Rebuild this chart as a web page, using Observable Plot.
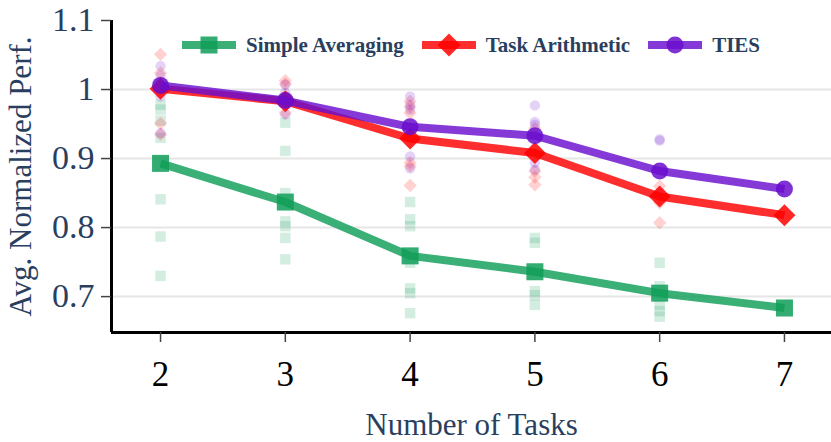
<!DOCTYPE html>
<html><head><meta charset="utf-8">
<script src="https://cdn.jsdelivr.net/npm/d3@7"></script>
<script src="https://cdn.jsdelivr.net/npm/@observablehq/plot@0.6"></script>
<style>
body{margin:0;background:#fff;}
#wrap{position:relative;width:831px;height:442px;font-family:"Liberation Serif",serif;}
#legend{position:absolute;left:182px;top:32px;display:flex;align-items:center;font-weight:bold;font-size:21px;color:#2a3f5f;white-space:nowrap;}
.item{display:flex;align-items:center;margin-right:18px;}
.item span{margin-left:10px;}
</style></head><body><div id="wrap"></div>
<script>
// ---- data ----
const tasks = [2, 3, 4, 5, 6, 7];
const seriesNames = ["Simple Averaging", "Task Arithmetic", "TIES"];
const seriesColors = ["#0F9D58", "#FF0000", "#6A0DCD"];
const seriesSymbols = ["square", "diamond2", "circle"];

const simpleAvg = [0.893, 0.837, 0.759, 0.736, 0.705, 0.6835];
const taskArith = [1.001, 0.983, 0.929, 0.908, 0.845, 0.818];
const ties = [1.006, 0.984, 0.946, 0.933, 0.882, 0.856];

// individual runs per number of tasks (aligned with tasks)
const simpleAvgRuns = [
  [0.978, 0.971, 0.955, 0.93, 0.841, 0.787, 0.730],
  [0.952, 0.911, 0.85, 0.809, 0.802, 0.785, 0.754],
  [0.837, 0.812, 0.802, 0.749, 0.712, 0.705, 0.676],
  [0.785, 0.778, 0.708, 0.702, 0.688],
  [0.749, 0.715, 0.688, 0.679, 0.671],
  []
];
const taskArithRuns = [
  [1.051, 1.024, 1.01, 0.951, 0.935],
  [1.013, 1.008, 0.966],
  [0.983, 0.975, 0.966, 0.894, 0.889, 0.861],
  [0.944, 0.882, 0.873, 0.862],
  [0.86, 0.836, 0.807],
  []
];
const tiesRuns = [
  [1.034, 1.02, 0.99, 0.937],
  [1.007, 0.995, 0.964],
  [0.990, 0.978, 0.971, 0.903, 0.886],
  [0.977, 0.953, 0.949, 0.894, 0.884],
  [0.928, 0.926, 0.85],
  []
];

const yTicks = [0.7, 0.8, 0.9, 1, 1.1];
const gridTicks = [0.7, 0.8, 0.9, 1];
const xDomain = [1.607, 7.377];
const yDomain = [0.648, 1.1];
const xLabel = "Number of Tasks";
const yLabel = "Avg. Normalized Perf.";

// ---- build tables ----
const means = [simpleAvg, taskArith, ties];
const runs = [simpleAvgRuns, taskArithRuns, tiesRuns];
const mainR = [9.6, 9.9, 8.5];
const paleR = [5.9, 6.0, 5.2];

const mainTables = means.map(arr => tasks.map((t, i) => ({task: t, value: arr[i]})));
const runTables = runs.map(r => r.flatMap((vals, i) => vals.map(v => ({task: tasks[i], value: v}))));

const marks = [
  Plot.gridY(gridTicks, {stroke: "#e6e6e6", strokeOpacity: 1, strokeWidth: 2})
];
runTables.forEach((tbl, k) => {
  marks.push(Plot.dot(tbl, {x: "task", y: "value", symbol: seriesSymbols[k], r: paleR[k],
    fill: seriesColors[k], fillOpacity: 0.18, stroke: "none"}));
});
mainTables.forEach((tbl, k) => {
  marks.push(Plot.line(tbl, {x: "task", y: "value", stroke: seriesColors[k], strokeWidth: 8,
    strokeOpacity: 0.82, strokeLinejoin: "round", strokeLinecap: "butt"}));
  marks.push(Plot.dot(tbl, {x: "task", y: "value", symbol: seriesSymbols[k], r: mainR[k],
    fill: seriesColors[k], fillOpacity: 0.85, stroke: "none"}));
});
marks.push(
  Plot.ruleX([xDomain[0]], {stroke: "black", strokeWidth: 3}),
  Plot.ruleY([yDomain[0]], {stroke: "black", strokeWidth: 3}),
  Plot.axisX({ticks: tasks, tickSize: 10, tickPadding: 19, fontSize: 35, fill: "black",
    stroke: "#444", strokeWidth: 1.5, label: null, tickFormat: d => String(d)}),
  Plot.axisY({ticks: yTicks, tickSize: 10, tickPadding: 7, fontSize: 34, fill: "#2a3f5f",
    stroke: "#444", strokeWidth: 1.5, label: null, tickFormat: d => String(d)}),
  Plot.text([xLabel], {text: d => d, frameAnchor: "bottom", dy: 102, lineAnchor: "bottom",
    textAnchor: "middle", fontSize: 31, fill: "#2a3f5f"}),
  Plot.text([yLabel], {text: d => d, frameAnchor: "left", dx: -81, rotate: -90, lineAnchor: "bottom",
    textAnchor: "middle", fontSize: 31, fill: "#2a3f5f"})
);

const chart = Plot.plot({
  width: 831, height: 442,
  marginLeft: 111, marginRight: 0, marginTop: 20, marginBottom: 110,
  x: {domain: xDomain},
  y: {domain: yDomain},
  style: {fontFamily: "Liberation Serif", background: "white", overflow: "visible"},
  marks
});
const wrap = document.getElementById("wrap");
wrap.appendChild(chart);

// ---- legend overlay ----
const legend = document.createElement("div");
legend.id = "legend";
const ns = "http://www.w3.org/2000/svg";
seriesNames.forEach((name, k) => {
  const item = document.createElement("div");
  item.className = "item";
  const svg = document.createElementNS(ns, "svg");
  svg.setAttribute("width", 54); svg.setAttribute("height", 26);
  svg.style.overflow = "visible";
  const line = document.createElementNS(ns, "line");
  line.setAttribute("x1", 0); line.setAttribute("x2", 54);
  line.setAttribute("y1", 13); line.setAttribute("y2", 13);
  line.setAttribute("stroke", seriesColors[k]); line.setAttribute("stroke-width", 8);
  line.setAttribute("stroke-opacity", 0.82);
  svg.appendChild(line);
  const sym = d3.symbol(
    k === 0 ? d3.symbolSquare : k === 1 ? d3.symbolDiamond2 : d3.symbolCircle,
    Math.PI * (k === 0 ? 9.6 : k === 1 ? 10.4 : 8.5) ** 2);
  const p = document.createElementNS(ns, "path");
  p.setAttribute("d", sym());
  p.setAttribute("transform", "translate(27,13)");
  p.setAttribute("fill", seriesColors[k]); p.setAttribute("fill-opacity", 0.85);
  svg.appendChild(p);
  item.appendChild(svg);
  const span = document.createElement("span");
  span.textContent = name;
  item.appendChild(span);
  legend.appendChild(item);
});
wrap.appendChild(legend);
</script>
</body></html>
